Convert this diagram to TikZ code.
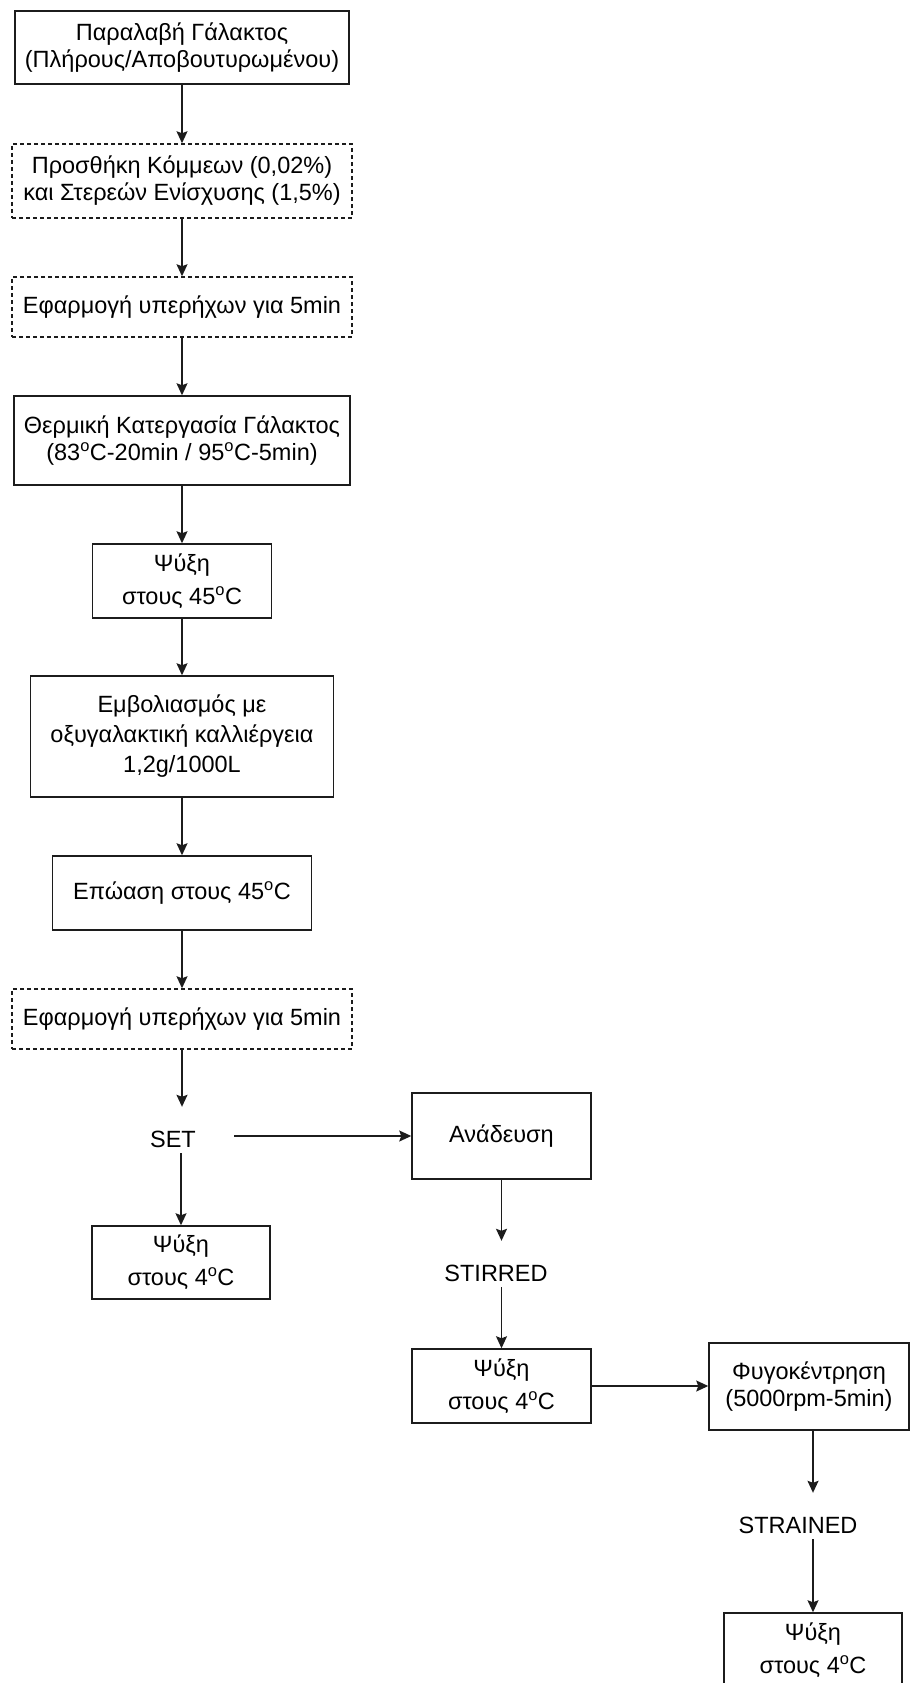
\documentclass[tikz,border=0pt]{standalone}
\usepackage{fontspec}
\setmainfont{Liberation Sans}
\usetikzlibrary{arrows.meta,positioning}
\definecolor{flowline}{RGB}{28,28,28}

\begin{document}
\begin{tikzpicture}[x=1pt,y=-1pt,>={Stealth[length=12pt,width=11pt,inset=2pt]},
  stepbox/.style={draw=flowline,line width=1.5pt,align=center,inner sep=0pt,
    font=\fontsize{23.5}{27}\selectfont},
  optbox/.style={stepbox,dash pattern=on 4pt off 3pt},
  branch/.style={inner sep=0pt,text height=40pt,text depth=6pt,anchor=base,
    font=\fontsize{23.5}{27}\selectfont},
  flow/.style={->,line width=1.5pt,draw=flowline}]
 \useasboundingbox (0,0) rectangle (910,1683);
 \clip (0,0) rectangle (910,1683);
 \node[stepbox,minimum width=334,minimum height=73] (recv) at (182,47.5)
   {Παραλαβή Γάλακτος\\(Πλήρους/Αποβουτυρωμένου)};
 \node[optbox,minimum width=340,minimum height=74] (gum) at (182,181)
   {Προσθήκη Κόμμεων (0,02\%)\\και Στερεών Ενίσχυσης (1,5\%)};
 \node[optbox,minimum width=340,minimum height=60] (sonic) at (182,307)
   {Εφαρμογή υπερήχων για 5min};
 \node[stepbox,minimum width=336,minimum height=89] (heat) at (182,440.5)
   {Θερμική Κατεργασία Γάλακτος\\(83\textsuperscript{o}C-20min / 95\textsuperscript{o}C-5min)};
 \node[stepbox,minimum width=179,minimum height=74] (cool45) at (182,581)
   {Ψύξη\\[6pt]στους 45\textsuperscript{o}C};
 \node[stepbox,minimum width=303,minimum height=121] (inoc) at (182,736.5)
   {Εμβολιασμός με\\[3pt]οξυγαλακτική καλλιέργεια\\[3pt]1,2g/1000L};
 \node[stepbox,minimum width=259,minimum height=74] (incub) at (182,893)
   {Επώαση στους 45\textsuperscript{o}C};
 \node[optbox,minimum width=340,minimum height=60] (sonicb) at (182,1019)
   {Εφαρμογή υπερήχων για 5min};
 \node[branch,minimum width=122] (set) at (173,1147) {SET};
 \node[stepbox,minimum width=178,minimum height=73] (coolset) at (181,1262.5)
   {Ψύξη\\[6pt]στους 4\textsuperscript{o}C};
 \node[stepbox,minimum width=179,minimum height=86] (stir) at (501.5,1136)
   {Ανάδευση};
 \node[branch] (stirred) at (496,1281) {STIRRED};
 \node[stepbox,minimum width=179,minimum height=74] (coolstir) at (501.5,1386)
   {Ψύξη\\[6pt]στους 4\textsuperscript{o}C};
 \node[stepbox,minimum width=200,minimum height=87] (centri) at (809,1386.5)
   {Φυγοκέντρηση\\(5000rpm-5min)};
 \node[branch] (strained) at (798,1533) {STRAINED};
 \node[stepbox,minimum width=178,minimum height=74] (coolstr) at (813,1650)
   {Ψύξη\\[6pt]στους 4\textsuperscript{o}C};
 \draw[flow] (recv) -- (gum);
 \draw[flow] (gum) -- (sonic);
 \draw[flow] (sonic) -- (heat);
 \draw[flow] (heat) -- (cool45);
 \draw[flow] (cool45) -- (inoc);
 \draw[flow] (inoc) -- (incub);
 \draw[flow] (incub) -- (sonicb);
 \draw[flow] (sonicb.south) -- (sonicb.south |- set.north);
 \draw[flow] (set.south -| coolset.north) -- (coolset.north);
 \draw[flow] (set.east |- stir.west) -- (stir.west);
 \draw[flow] (stir.south) -- (stir.south |- stirred.north);
 \draw[flow] (stirred.south -| coolstir.north) -- (coolstir.north);
 \draw[flow] (coolstir.east) -- (centri.west |- coolstir.east);
 \draw[flow] (centri.south -| coolstr.north) -- (coolstr.north |- strained.north);
 \draw[flow] (strained.south -| coolstr.north) -- (coolstr.north);
\end{tikzpicture}
\end{document}
